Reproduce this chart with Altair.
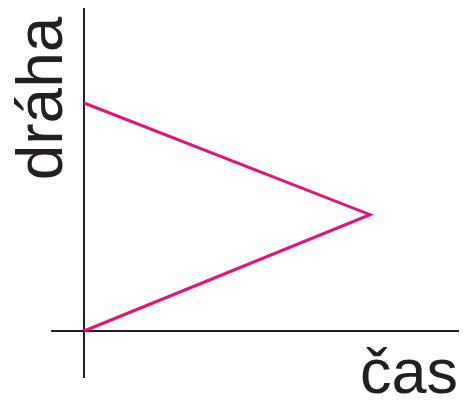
import altair as alt
import pandas as pd

# data: path (dráha) vs time (čas)
cas = [0, 1, 0]
draha = [0, 0.51, 1]
order = [0, 1, 2]

df = pd.DataFrame({"cas": cas, "draha": draha, "o": order})

W, H = 451, 386
xs = alt.Scale(domain=[-0.2657, 1.3112], nice=False, zero=False)
ys = alt.Scale(domain=[-0.2763, 1.4167], nice=False, zero=False)

axis_color = "#231f20"

hline = alt.Chart(pd.DataFrame({"x1": [-0.115], "x2": [1.3112], "y": [0]})).mark_rule(
    color=axis_color, strokeWidth=2
).encode(
    x=alt.X("x1:Q", scale=xs, axis=None),
    x2="x2:Q",
    y=alt.Y("y:Q", scale=ys, axis=None),
)

vline = alt.Chart(pd.DataFrame({"x": [0], "y1": [-0.206], "y2": [1.4167]})).mark_rule(
    color=axis_color, strokeWidth=2
).encode(
    x=alt.X("x:Q", scale=xs, axis=None),
    y=alt.Y("y1:Q", scale=ys, axis=None),
    y2="y2:Q",
)

line = alt.Chart(df).mark_line(color="#e0157b", strokeWidth=3).encode(
    x=alt.X("cas:Q", scale=xs, axis=None),
    y=alt.Y("draha:Q", scale=ys, axis=None),
    order="o:Q",
)

ylab = alt.Chart(pd.DataFrame({"t": ["dráha"]})).mark_text(
    font="Liberation Sans", fontSize=64, angle=270, align="center",
    baseline="alphabetic", color=axis_color,
).encode(text="t:N", x=alt.value(54), y=alt.value(90.5))

xlab = alt.Chart(pd.DataFrame({"t": ["čas"]})).mark_text(
    font="Liberation Sans", fontSize=63, align="right",
    baseline="alphabetic", color=axis_color,
).encode(text="t:N", x=alt.value(W - 1), y=alt.value(H - 1))

chart = alt.layer(hline, vline, line, ylab, xlab).properties(
    width=W, height=H, padding=0, autosize=alt.AutoSizeParams(type="none")
).configure_view(stroke=None)

chart.save("out.html", embed_options={"renderer": "svg", "actions": False})
